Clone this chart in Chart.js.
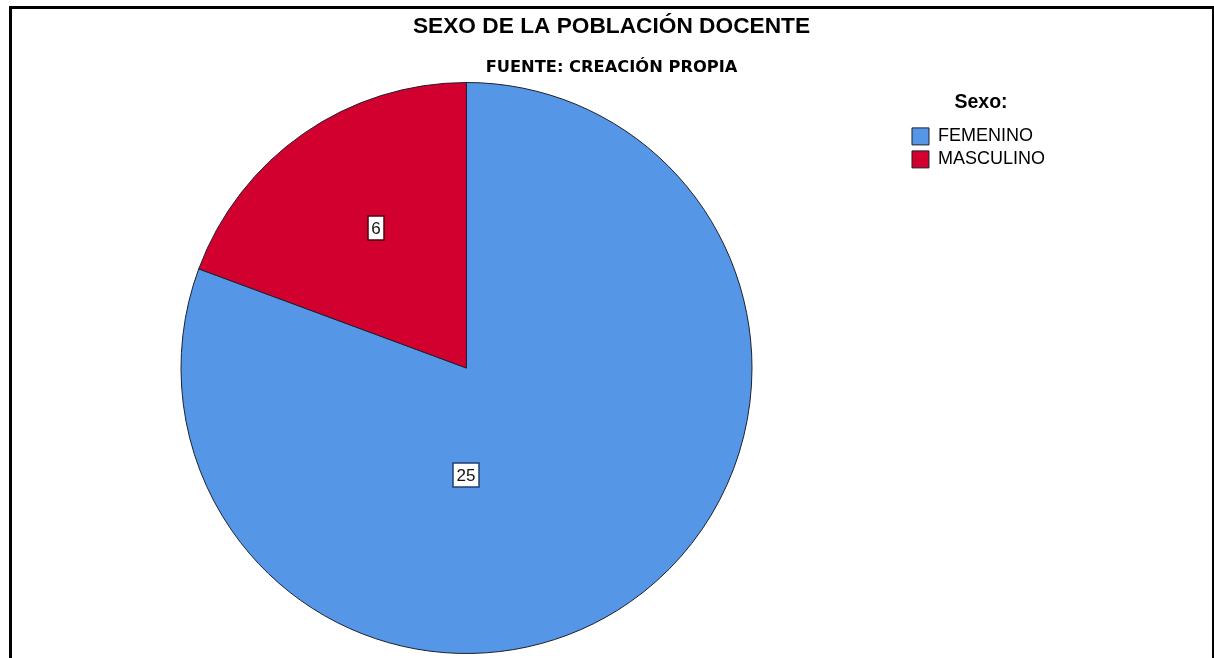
<!DOCTYPE html>
<html>
<head>
<meta charset="utf-8">
<script src="https://cdn.jsdelivr.net/npm/chart.js@4.4.1/dist/chart.umd.min.js"></script>
<style>
    html, body { margin: 0; padding: 0; background: #fff; }
    #marco {
        position: absolute; left: 9px; top: 6px; width: 1200px; height: 660px;
        border-top: 3px solid #000; border-left: 3px solid #000; border-right: 3px solid #000;
    }
    #wrap { position: absolute; left: 0; top: 0; width: 1214px; height: 658px; }
</style>
</head>
<body>
<div id="marco"></div>
<div id="wrap"><canvas id="graficoSexo" width="1214" height="658"></canvas></div>
<script>
// DATOS
const categorias = ["FEMENINO", "MASCULINO"];
const cantidades = [25, 6];

const colores = ["#5596E6", "#D1002F"];
const bordesEtiqueta = ["#1F3F70", "#4A0012"];

// posicion de las etiquetas (giro respecto al angulo medio, en grados, y fraccion del radio)
const etiquetaGiro = [35, 2];
const etiquetaRadio = [0.374, 0.585];

const FUENTE = "'Liberation Sans', Arial, sans-serif";

// etiquetas con caja blanca sobre cada sector
const etiquetasPlugin = {
    id: 'etiquetasCaja',
    afterLayout(chart) {
        // titulos centrados sobre todo el marco, no solo sobre el area del grafico
        chart.boxes.forEach(b => {
            if (b.position === 'top' && b !== chart.legend) {
                b.left = 9;
                b.right = chart.width;
                b.width = b.right - b.left;
            }
        });
    },
    afterDatasetsDraw(chart) {
        const ctx = chart.ctx;
        const meta = chart.getDatasetMeta(0);
        meta.data.forEach((arc, i) => {
            const p = arc.getProps(['x', 'y', 'startAngle', 'endAngle', 'outerRadius'], true);
            const ang = (p.startAngle + p.endAngle) / 2 + etiquetaGiro[i] * Math.PI / 180;
            const r = p.outerRadius * etiquetaRadio[i];
            const x = p.x + Math.cos(ang) * r;
            const y = p.y + Math.sin(ang) * r;
            const texto = String(chart.data.datasets[0].data[i]);
            ctx.save();
            ctx.font = "17px 'Liberation Sans Narrow', 'Liberation Sans', Arial, sans-serif";
            const w = Math.round(ctx.measureText(texto).width + 7);
            const h = 24;
            const bx = Math.round(x - w / 2), by = Math.round(y - h / 2);
            ctx.fillStyle = '#fff';
            ctx.strokeStyle = bordesEtiqueta[i];
            ctx.lineWidth = 1.5;
            ctx.fillRect(bx, by, w, h);
            ctx.strokeRect(bx, by, w, h);
            ctx.fillStyle = '#111';
            ctx.textAlign = 'center';
            ctx.textBaseline = 'middle';
            ctx.fillText(texto, bx + w / 2, by + h / 2 + 1);
            ctx.restore();
        });
    }
};

window.addEventListener('DOMContentLoaded', function () {
    const ctx = document.getElementById('graficoSexo').getContext('2d');
    new Chart(ctx, {
        type: 'pie',
        data: {
            labels: categorias,
            datasets: [{
                data: cantidades,
                backgroundColor: colores,
                borderColor: '#1E2030',
                borderWidth: 1
            }]
        },
        options: {
            responsive: false,
            animation: false,
            layout: { padding: { left: 26, right: 159, top: 0, bottom: 4 } },
            plugins: {
                title: {
                    display: true,
                    text: 'SEXO DE LA POBLACIÓN DOCENTE',
                    color: '#000',
                    font: { family: FUENTE, size: 22.7, weight: 'bold' },
                    padding: { top: 13, bottom: 0 }
                },
                subtitle: {
                    display: true,
                    text: 'FUENTE: CREACIÓN PROPIA',
                    color: '#000',
                    font: { family: "'DejaVu Sans', sans-serif", size: 16.3, weight: 'bold' },
                    padding: { top: 18, bottom: 4.2 }
                },
                legend: {
                    position: 'right',
                    align: 'start',
                    fullSize: false,
                    title: {
                        display: true,
                        text: 'Sexo:',
                        color: '#000',
                        font: { family: FUENTE, size: 19.5, weight: 'bold' },
                        padding: { top: 11, bottom: 6 }
                    },
                    labels: {
                        color: '#000',
                        boxWidth: 17,
                        boxHeight: 17,
                        padding: 5,
                        font: { family: FUENTE, size: 18 }
                    }
                },
                tooltip: { enabled: false }
            }
        },
        plugins: [etiquetasPlugin]
    });
});
</script>
</body>
</html>
